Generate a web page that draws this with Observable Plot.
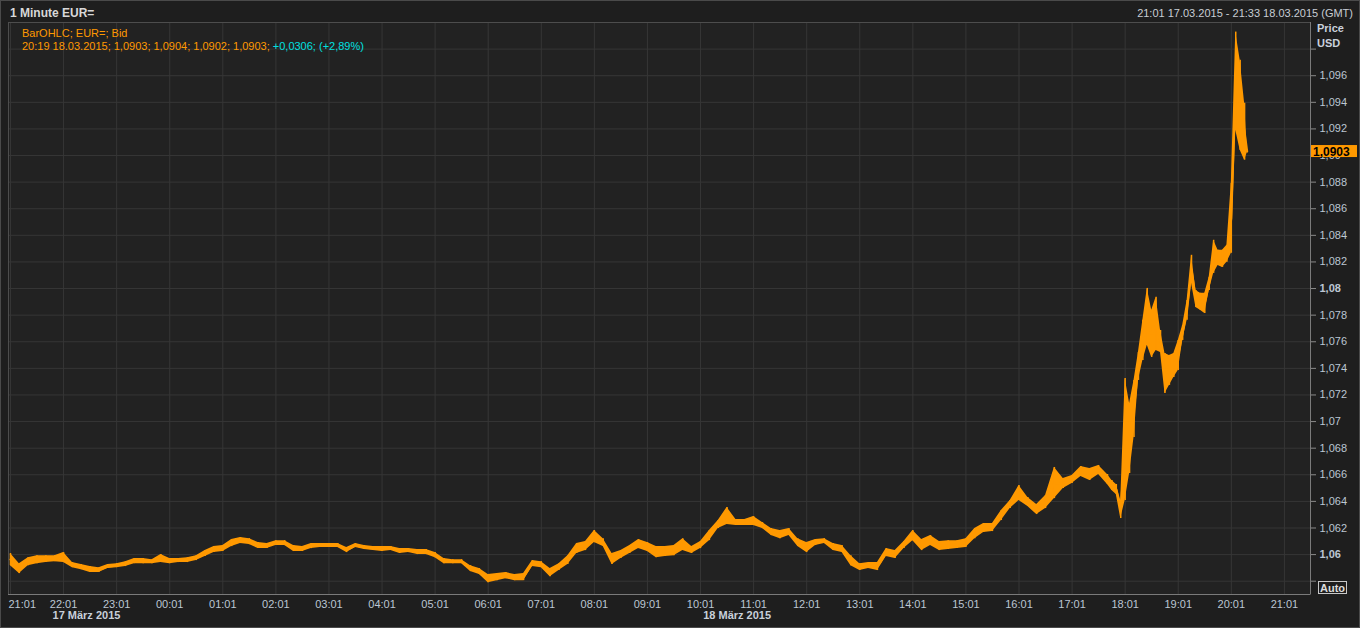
<!DOCTYPE html>
<html><head><meta charset="utf-8">
<script src="https://cdn.jsdelivr.net/npm/d3@7"></script>
<script src="https://cdn.jsdelivr.net/npm/@observablehq/plot@0.6"></script>
<style>
html,body{margin:0;padding:0;background:#1e1e1e;overflow:hidden;}
#chart{position:relative;width:1360px;height:628px;}
#border{position:absolute;left:0;top:0;width:1360px;height:628px;box-sizing:border-box;border:1px solid #4a4a4a;pointer-events:none;}
</style></head>
<body><div id="chart"><div id="border"></div></div>
<script>
// ---- data (EUR= 1-minute bid) ----
// quiet phase: 10-minute steps starting 21:01 17.03.2015
const quietHigh = [1.06008,1.05932,1.05977,1.05992,1.05992,1.05992,1.06015,1.05940,1.05925,1.05910,
1.05902,1.05925,1.05932,1.05947,1.05970,1.05970,1.05962,1.06000,1.05970,1.05970,
1.05977,1.05992,1.06030,1.06060,1.06068,1.06113,1.06128,1.06120,1.06090,1.06083,
1.06105,1.06105,1.06068,1.06060,1.06083,1.06083,1.06083,1.06083,1.06053,1.06083,
1.06068,1.06060,1.06060,1.06060,1.06045,1.06045,1.06038,1.06038,1.06015,1.05970,
1.05962,1.05962,1.05917,1.05895,1.05850,1.05857,1.05865,1.05850,1.05857,1.05955,
1.05947,1.05895,1.05932,1.05992,1.06083,1.06098,1.06181,1.06120,1.06008,1.06030,
1.06068,1.06113,1.06090,1.06060,1.06060,1.06068,1.06120,1.06060,1.06098,1.06181,
1.06256,1.06354,1.06263,1.06263,1.06286,1.06241,1.06196,1.06181,1.06196,1.06120,
1.06090,1.06113,1.06120,1.06083,1.06068,1.05992,1.05932,1.05940,1.05940,1.06045,
1.06030,1.06098,1.06181,1.06113,1.06143,1.06098,1.06105,1.06105,1.06120,1.06196,
1.06233,1.06233,1.06331,1.06406,1.06519,1.06429,1.06376,1.06444,1.06655,1.06572,
1.06594,1.06662,1.06647,1.06670,1.06602];
const quietLow = [1.05917,1.05857,1.05917,1.05932,1.05940,1.05947,1.05940,1.05902,1.05887,1.05865,
1.05865,1.05895,1.05902,1.05910,1.05932,1.05932,1.05932,1.05940,1.05932,1.05940,
1.05940,1.05955,1.05985,1.06015,1.06023,1.06060,1.06083,1.06075,1.06045,1.06045,
1.06068,1.06068,1.06023,1.06023,1.06045,1.06053,1.06053,1.06053,1.06015,1.06053,
1.06038,1.06030,1.06023,1.06030,1.06008,1.06015,1.06000,1.06000,1.05977,1.05932,
1.05932,1.05932,1.05872,1.05850,1.05789,1.05804,1.05819,1.05804,1.05804,1.05910,
1.05902,1.05834,1.05880,1.05925,1.06008,1.06030,1.06090,1.06060,1.05925,1.05970,
1.06008,1.06045,1.06023,1.05977,1.05985,1.05992,1.06030,1.06008,1.06045,1.06105,
1.06196,1.06226,1.06218,1.06218,1.06218,1.06196,1.06143,1.06120,1.06143,1.06060,
1.06015,1.06068,1.06083,1.06030,1.06015,1.05917,1.05880,1.05895,1.05880,1.05985,
1.05970,1.06045,1.06105,1.06030,1.06068,1.06030,1.06038,1.06045,1.06053,1.06120,
1.06166,1.06173,1.06256,1.06346,1.06406,1.06361,1.06301,1.06346,1.06421,1.06497,
1.06534,1.06587,1.06557,1.06602,1.06527];
// rally phase (FOMC): 5-minute steps starting 17:46 18.03.2015
const rallyHigh = [1.06557,1.06527,1.06406,1.07324,1.07136,1.07309,1.07520,1.07761,1.08001,1.07836,
1.07934,1.07685,1.07512,1.07497,1.07512,1.07610,1.07723,1.07911,1.08250,1.07986,
1.07964,1.07964,1.08084,1.08363,1.08287,1.08287,1.08325,1.08791,1.09928,1.09717,1.09393];
const rallyLow = [1.06482,1.06451,1.06271,1.06406,1.06609,1.06880,1.07309,1.07460,1.07573,1.07482,
1.07535,1.07520,1.07211,1.07272,1.07332,1.07384,1.07610,1.07761,1.08039,1.07858,
1.07836,1.07813,1.07986,1.08114,1.08174,1.08159,1.08197,1.08265,1.09190,1.09040,1.08965];
// last bar 20:19 18.03.2015 (O,H,L,C)
const lastBar = {time: "2015-03-18T20:19Z", open: 1.0903, high: 1.0904, low: 1.0902, close: 1.0903};
const change = "+0,0306", changePct = "(+2,89%)";

const priceTicks = [1.058,1.06,1.062,1.064,1.066,1.068,1.07,1.072,1.074,1.076,1.078,1.08,1.082,1.084,1.086,1.088,1.09,1.092,1.094,1.096,1.098];
const boldTicks = ["1,06","1,08"];
const hiddenTicks = [1.058, 1.098];
const dateLabels = [{t: "2015-03-17T21:48:30Z", text: "17 März 2015"}, {t: "2015-03-18T10:04Z", text: "18 März 2015"}];
const quietStart = Date.UTC(2015,2,17,21,1);
const rallyStart = Date.UTC(2015,2,18,17,46);
const xDomain = [new Date("2015-03-17T20:58:45Z"), new Date("2015-03-18T21:30:30Z")];
const yDomain = [1.057, 1.100];

// ---- build table ----
const bars = [];
quietHigh.forEach((h,i) => bars.push({t: new Date(quietStart + i*600000), high: h, low: quietLow[i]}));
rallyHigh.forEach((h,i) => bars.push({t: new Date(rallyStart + i*300000), high: h, low: rallyLow[i]}));
bars.push({t: new Date(lastBar.time), high: lastBar.high, low: lastBar.low});
bars.forEach(d => d.mid = (d.high + d.low) / 2);
const hourTicks = d3.range(25).map(i => new Date(quietStart + i*3600000));

const fmt = v => String(+v.toFixed(3)).replace(".", ",");
const ORANGE = "#ff9900", CYAN = "#00e0e0", AXIS = "#bcc6d3";

const plot = Plot.plot({
  width: 1360, height: 628,
  marginLeft: 8, marginRight: 50, marginTop: 22, marginBottom: 34,
  style: {background: "#1e1e1e", color: AXIS, fontFamily: "'Liberation Sans', Arial, sans-serif", fontSize: "11px", overflow: "visible"},
  x: {type: "utc", domain: xDomain, axis: "bottom", ticks: hourTicks, tickSize: 0, tickPadding: 6, tickFormat: d3.utcFormat("%H:%M"), label: null},
  y: {domain: yDomain, axis: "right", ticks: priceTicks, tickSize: 5, tickPadding: 4, tickFormat: v => hiddenTicks.includes(v) ? "" : fmt(v), label: null},
  marks: [
    Plot.frame({fill: "#222222"}),
    Plot.ruleX(hourTicks, {x: d => d, stroke: "#363636"}),
    Plot.ruleY(priceTicks, {y: d => d, stroke: "#363636"}),
    Plot.frame({stroke: "#4d4d4d"}),
    Plot.ruleY([yDomain[0]], {stroke: "#7a7a7a"}),
    Plot.ruleX([xDomain[1]], {stroke: "#7a7a7a"}),
    Plot.areaY(bars, {x: "t", y1: "low", y2: "high", fill: ORANGE, curve: "linear"}),
    Plot.ruleX(bars, {x: "t", y1: "low", y2: "high", stroke: ORANGE, strokeWidth: 1.5}),
    Plot.line(bars, {x: "t", y: "mid", stroke: ORANGE, strokeWidth: 2}),
    Plot.text(dateLabels, {x: d => new Date(d.t), text: "text", frameAnchor: "bottom", dy: 24, textAnchor: "start", fontWeight: "bold", fill: "#c8d0da", fontSize: 11})
  ]
});
document.getElementById("chart").appendChild(plot);

const svg = d3.select(plot);
// style axes
svg.selectAll("text").each(function() {
  const s = this.textContent;
  if (boldTicks.includes(s)) d3.select(this).attr("font-weight", "bold");
});
svg.selectAll("line, path").filter(function(){ return this.closest("g[aria-label*='tick']") && !this.closest("g[aria-label*='label']"); }).attr("stroke", "#8a8a8a");
// first time label fits inside frame
const first = svg.selectAll("text").filter(function(){ return this.textContent === "21:01"; }).nodes()[0];
if (first) d3.select(first).attr("text-anchor", "start").attr("dx", -2);

const ys = plot.scale("y");
const yLast = ys.apply(lastBar.close);
const g = svg.append("g").attr("font-family", "'Liberation Sans', Arial, sans-serif").attr("text-anchor", "start");
g.append("rect").attr("x", 1311).attr("y", yLast - 6).attr("width", 46).attr("height", 12).attr("fill", ORANGE);
g.append("text").attr("x", 1313).attr("y", yLast + 4.5).attr("font-size", 12).attr("font-weight", "bold").attr("fill", "#000").text(lastBar.close.toFixed(4).replace(".", ","));
// Auto button
g.append("rect").attr("x", 1318.5).attr("y", 581.5).attr("width", 28).attr("height", 12).attr("fill", "#1e1e1e").attr("stroke", "#c8c8c8");
g.append("text").attr("x", 1332.5).attr("y", 591.5).attr("text-anchor", "middle").attr("font-size", 11).attr("font-weight", "bold").attr("fill", "#dcdcdc").text("Auto");
// header
g.append("text").attr("x", 10).attr("y", 17).attr("font-size", 12).attr("font-weight", "bold").attr("fill", "#d8d8d8").text("1 Minute EUR=");
g.append("text").attr("x", 1353).attr("y", 17).attr("text-anchor", "end").attr("font-size", 11).attr("fill", "#c8cdd4").text("21:01 17.03.2015 - 21:33 18.03.2015 (GMT)");
g.append("text").attr("x", 1317).attr("y", 32).attr("font-size", 11).attr("font-weight", "bold").attr("fill", "#c9d1dc").text("Price");
g.append("text").attr("x", 1317).attr("y", 47).attr("font-size", 11).attr("font-weight", "bold").attr("fill", "#c9d1dc").text("USD");
// legend
g.append("text").attr("x", 22).attr("y", 37).attr("font-size", 11).attr("fill", ORANGE).text("BarOHLC; EUR=; Bid");
const l2 = g.append("text").attr("x", 22).attr("y", 50).attr("font-size", 11);
const ohlc = [lastBar.open, lastBar.high, lastBar.low, lastBar.close].map(v => v.toFixed(4).replace(".", ",")).join("; ");
l2.append("tspan").attr("fill", ORANGE).text("20:19 18.03.2015; " + ohlc + "; ");
l2.append("tspan").attr("fill", CYAN).text(change + "; " + changePct);
</script>
</body></html>
